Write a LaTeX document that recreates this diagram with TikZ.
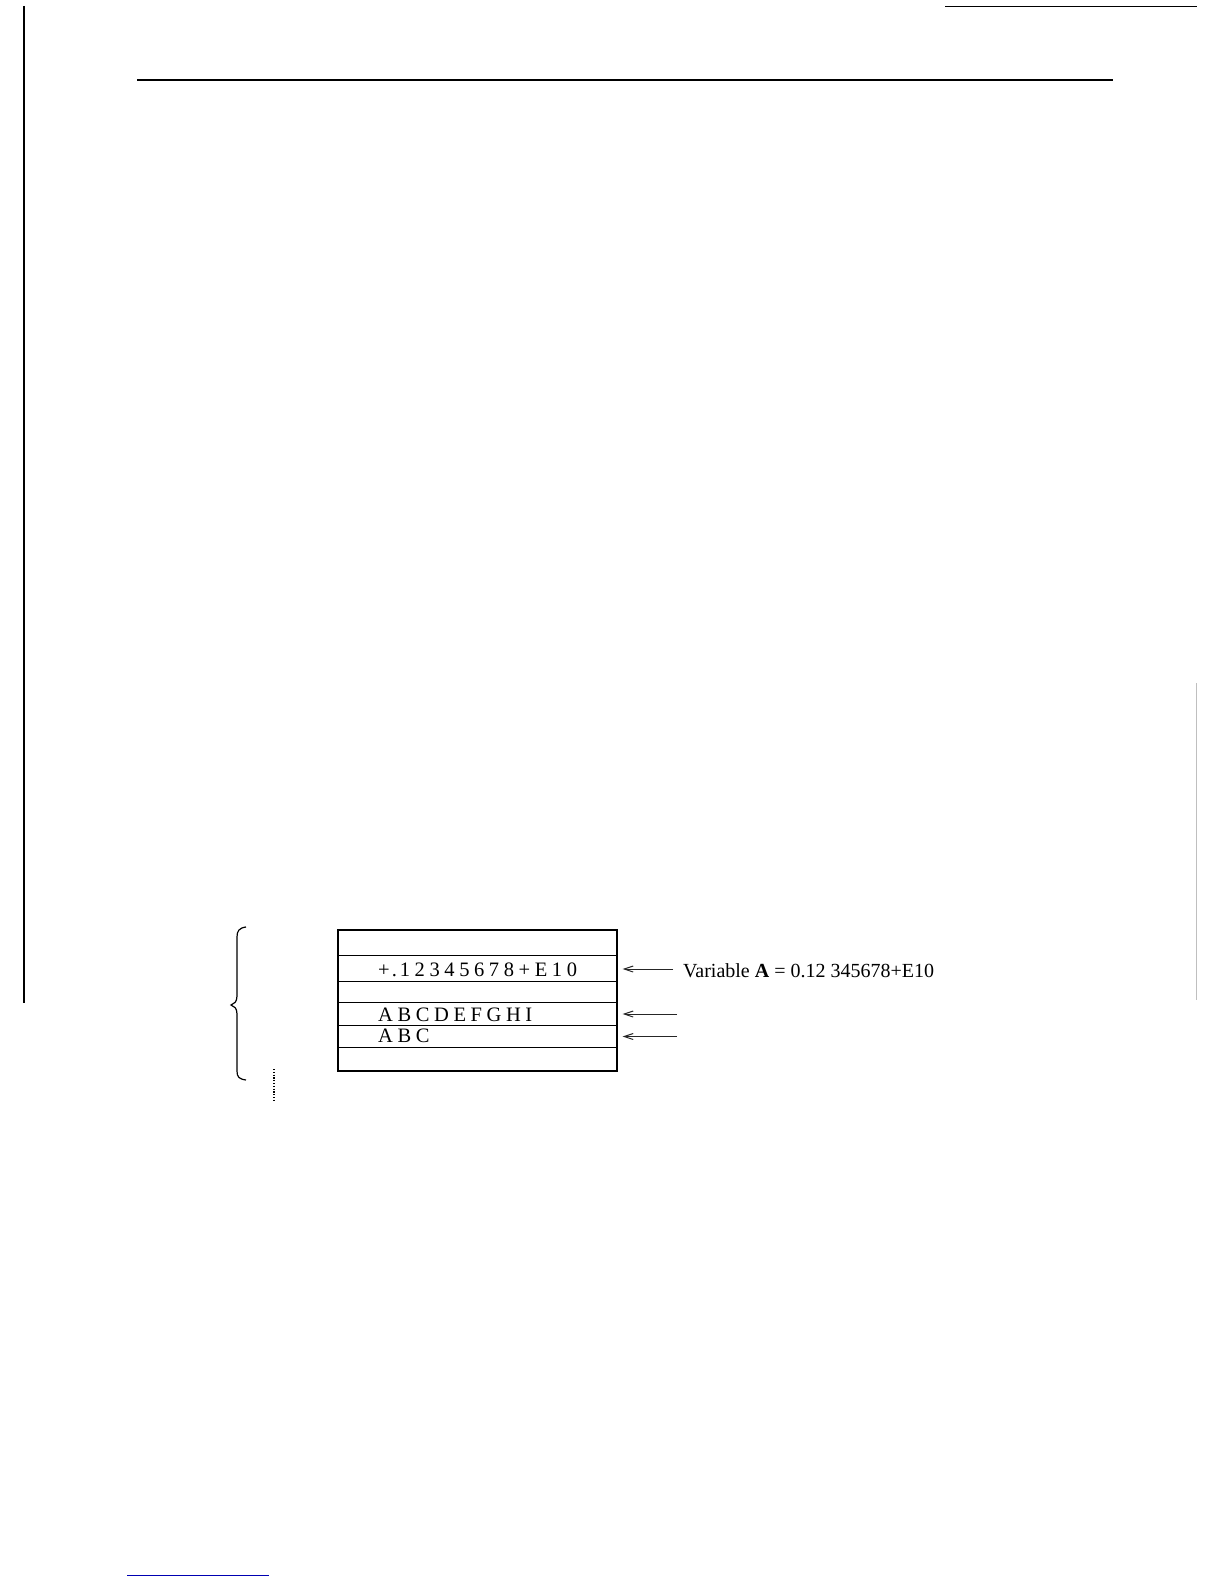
\documentclass[tikz,border=0pt]{standalone}
\usepackage{fontspec}
\setmainfont{Liberation Serif}
\usetikzlibrary{arrows.meta}
\begin{document}
\begin{tikzpicture}[x=1pt,y=-1pt,
  pagerule/.style={line width=1.4pt},
  memline/.style={line width=1.2pt},
  ptr/.style={line width=1pt, black!85, shorten >=5pt, -{Straight Barb[length=9pt,width=6pt]}},
  celltext/.style={anchor=base west, inner sep=0pt, font=\fontsize{20.5}{23}\selectfont},
  lbl/.style={anchor=base west, inner sep=0pt, font=\fontsize{20}{24}\selectfont}]
\useasboundingbox[fill=white] (0,0) rectangle (1224,1584);
\def\g{\kern4.6pt}
% page edges and rules
\draw[line width=2.7pt] (24,6) -- (24,1003);
\draw[line width=1.5pt] (945,6.5) -- (1197,6.5);
\draw[pagerule] (137,80) -- (1113,80);
\draw[blue!70!black, line width=1pt] (127,1575) -- (269,1575);
\draw[black!25, line width=0.8pt] (1196,683) -- (1196,1000);
% memory box
\node[draw, line width=1.2pt, minimum width=279pt, minimum height=141pt, inner sep=0pt] (mem) at (477.5,1000.5) {};
\foreach \yy in {955.5,981.5,1002.5,1025.5,1047.5}
  \draw[memline] (mem.west |- 0,\yy) -- (mem.east |- 0,\yy);
\node[celltext] (num) at (378,976) {+\kern2pt.\kern3pt1\g2\g3\g4\g5\g6\g7\g8\g+\g E\g1\g0};
\node[celltext] (s1) at (378,1021) {A\g B\g C\g D\g E\g F\g G\g H\g I};
\node[celltext] (s2) at (378,1042.5) {A\g B\g C};
% labels and pointers
\node[lbl] (varA) at (683,977) {Variable \textbf{A} = 0.12 345678+E10};
\coordinate (t1) at (673,969);
\coordinate (t2) at (677,1014);
\coordinate (t3) at (677,1036.5);
\draw[ptr] (t1) -- (mem.east |- t1);
\draw[ptr] (t2) -- (mem.east |- t2);
\draw[ptr] (t3) -- (mem.east |- t3);
% brace and dotted continuation
\draw[line width=1.2pt] (246,927) .. controls (239,928) and (237,931) .. (237,937) -- (237,996)
  .. controls (237,1002) and (234,1004) .. (231,1005)
  .. controls (234,1006) and (237,1008) .. (237,1014) -- (237,1071)
  .. controls (237,1077) and (239,1079) .. (246,1080);
\coordinate (d1) at (274,1069);
\coordinate (d2) at (274,1100);
\draw[line width=1.6pt, dash pattern=on 1.2pt off 1.6pt] (d1) -- (d2);
\end{tikzpicture}
\end{document}
